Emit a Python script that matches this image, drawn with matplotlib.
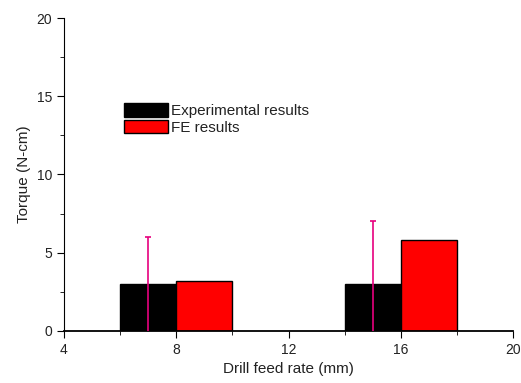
import matplotlib
matplotlib.use('Agg')
import matplotlib.pyplot as plt
from matplotlib.ticker import MultipleLocator

plt.rcParams['font.family'] = ['Liberation Sans', 'DejaVu Sans']
plt.rcParams['text.color'] = '#222222'
plt.rcParams['axes.labelcolor'] = '#222222'
plt.rcParams['xtick.labelcolor'] = '#222222'
plt.rcParams['ytick.labelcolor'] = '#222222'

# bar left edges (drill feed rate), width 2
exp_x = [6, 14]
exp_y = [3.0, 3.0]
fe_x = [8, 16]
fe_y = [3.2, 5.8]
# error bar: centre of experimental bars, upper end
err_x = [7, 15]
err_top = [6.0, 7.0]

fig = plt.figure(figsize=(5.21, 3.83), dpi=100)
ax = fig.add_axes([0.1228, 0.1358, 0.862, 0.8172])

ax.bar(exp_x, exp_y, width=2, align='edge', color='black', edgecolor='black',
       linewidth=1, label='Experimental results', zorder=2)
ax.bar(fe_x, fe_y, width=2, align='edge', color='red', edgecolor='black',
       linewidth=1, label='FE results', zorder=2)
ax.vlines(err_x, 0, err_top, color='#e6007e', linewidth=1.2, zorder=3)
ax.hlines(err_top, [x - 0.1 for x in err_x], [x + 0.1 for x in err_x],
          color='#e6007e', linewidth=1.2, zorder=3)

ax.set_xlim(4, 20)
ax.set_ylim(0, 20)
ax.xaxis.set_major_locator(MultipleLocator(4))
ax.xaxis.set_minor_locator(MultipleLocator(2))
ax.yaxis.set_major_locator(MultipleLocator(5))
ax.yaxis.set_minor_locator(MultipleLocator(2.5))
ax.spines['top'].set_visible(False)
ax.spines['right'].set_visible(False)
ax.spines['bottom'].set_linewidth(1.3)
ax.tick_params(which='major', direction='out', length=5, labelsize=10)
ax.tick_params(which='minor', direction='out', length=3)
ax.set_xlabel('Drill feed rate (mm)', fontsize=11)
ax.set_ylabel('Torque (N-cm)', fontsize=11)

ax.legend(loc='upper left', bbox_to_anchor=(0.12, 0.748), frameon=False,
          fontsize=11, handlelength=2.9, handleheight=1.0, handletextpad=0.2,
          labelspacing=0.1, borderaxespad=0)

fig.savefig('out.png', dpi=100)
